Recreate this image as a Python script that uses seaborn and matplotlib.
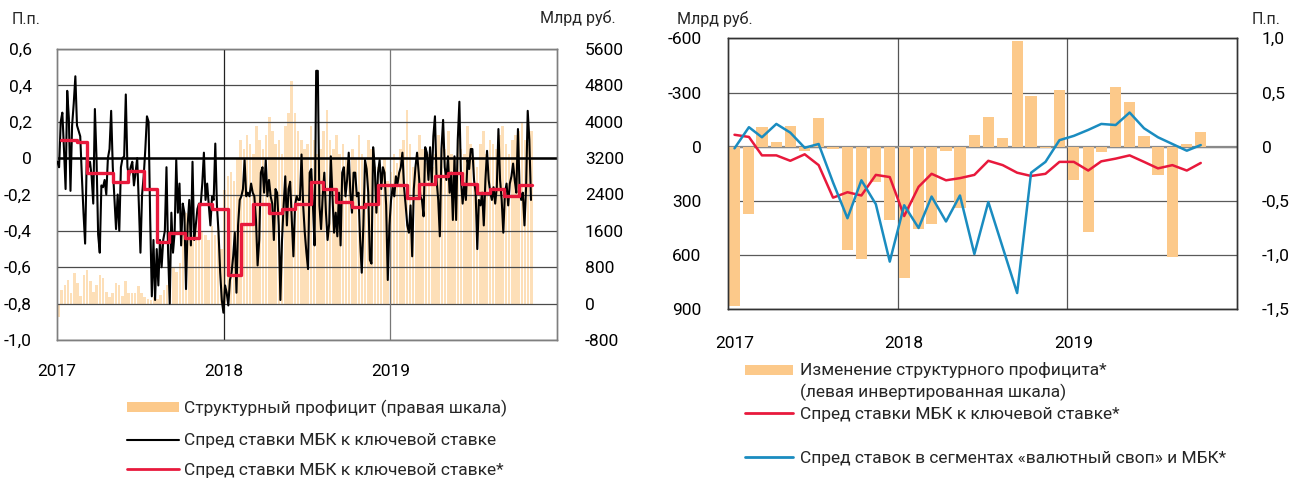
import numpy as np
import pandas as pd
import matplotlib
matplotlib.use("Agg")
import matplotlib.pyplot as plt
from matplotlib.lines import Line2D
from matplotlib.patches import Rectangle
import seaborn as sns

# ---------------- data: left chart ----------------
spread_daily = [
    -0.02, -0.05, 0.20, 0.25, 0.05, -0.17, 0.37, 0.22, -0.18, 0.18,
    0.30, 0.45, 0.18, 0.15, 0.12, -0.10, -0.30, -0.47, 0.0, -0.05,
    -0.02, -0.10, -0.25, 0.27, 0.0, -0.42, -0.52, -0.15, -0.16, -0.12,
    -0.20, 0.00, 0.05, 0.26, -0.05, -0.22, -0.39, -0.20, -0.40, -0.05,
    0.00, 0.01, 0.35, -0.05, -0.10, -0.05, -0.02, -0.15, -0.08, 0.0,
    -0.25, -0.52, -0.20, -0.10, 0.05, 0.23, 0.20, -0.34, -0.76,
    -0.45, -0.78, -0.50, -0.70, -0.45, -0.60, -0.45, -0.40, -0.05, -0.52,
    -0.80, -0.30, -0.52, -0.41, -0.01, -0.30, -0.14, -0.48, -0.25, -0.30,
    -0.72, -0.37, -0.23, -0.48, -0.02, -0.45, -0.37, -0.28, -0.25, -0.26,
    -0.14, 0.03, -0.23, -0.14, -0.26, -0.37, -0.21, -0.23, 0.08, -0.26,
    -0.41, -0.63, -0.78, -0.85, -0.70, -0.74, -0.81, -0.67, -0.63, -0.54,
    -0.41, -0.74, -0.37, -0.23, -0.21, -0.17, -0.01, -0.21, -0.19, -0.21, -0.14,
    -0.19, -0.21, -0.34, -0.59, -0.45, -0.08, -0.05, -0.19, -0.01, -0.21,
    -0.12, -0.21, -0.25, -0.45, -0.17, -0.19, -0.37, -0.78, -0.45, -0.26,
    -0.10, -0.37, -0.17, -0.13, -0.34, -0.54, -0.26, -0.21, -0.23, -0.23,
    0.02, -0.26, -0.41, -0.52, -0.61, -0.08, -0.06, -0.26, -0.48, 0.48,
    0.48, -0.26, -0.39, -0.21, -0.08, -0.30, -0.45, -0.36, 0.01, -0.21,
    -0.41, -0.30, -0.43, -0.19, -0.48, -0.08, -0.05, -0.21, -0.12, 0.03,
    -0.19, -0.30, -0.08,
    -0.08, -0.21, -0.19, -0.45, -0.63, -0.37, -0.01, -0.06, -0.19, -0.56,
    -0.58, 0.06, -0.05, -0.30, -0.08, -0.01, -0.17, -0.05, -0.08, -0.26,
    -0.67, -0.37, -0.23, -0.16, -0.21, -0.10, -0.14, -0.08, -0.05, 0.03,
    -0.16, -0.26, -0.37, -0.41, -0.26, -0.54, -0.17, -0.05, 0.03, -0.08,
    -0.21, -0.23, -0.32, 0.06, 0.03, -0.12, 0.06, -0.14, 0.12, 0.23,
    -0.12, -0.23, -0.43, 0.05, 0.21, -0.05, -0.12, 0.01, -0.19, -0.08,
    -0.34, 0.01,
    -0.34, 0.10, 0.31, -0.12, -0.25, -0.14, -0.23, -0.01, -0.06, 0.05,
    0.05, -0.12, -0.19, -0.50, -0.23, -0.26, -0.19, -0.37, -0.12, 0.04,
    -0.12, -0.19, -0.23, -0.16, -0.25, -0.16, 0.16, -0.12, -0.23, -0.41,
    -0.19, -0.14, -0.26, -0.14, -0.10, -0.03, -0.12, -0.19, 0.16, -0.17,
    -0.23, -0.19, -0.37, -0.16, 0.26, 0.10, -0.23,
]
spread_start, spread_end = "2017-01-02", "2019-11-05"

step_dates = [
    "2017-01-09", "2017-02-13", "2017-03-07", "2017-05-04", "2017-06-05",
    "2017-07-11", "2017-08-07", "2017-09-03", "2017-10-08", "2017-11-07",
    "2017-12-06", "2018-01-10", "2018-02-08", "2018-03-07", "2018-04-10",
    "2018-05-08", "2018-06-06", "2018-07-11", "2018-08-07", "2018-09-05",
    "2018-10-08", "2018-11-06", "2018-12-04", "2019-02-06", "2019-03-05",
    "2019-04-09", "2019-05-07", "2019-06-07", "2019-07-10", "2019-08-08",
    "2019-09-06", "2019-10-09", "2019-11-07",
]
step_values = [
    0.10, 0.09, -0.08, -0.13, -0.07, -0.17, -0.46, -0.41, -0.44, -0.25,
    -0.28, -0.64, -0.36, -0.25, -0.30, -0.28, -0.25, -0.13, -0.17, -0.24,
    -0.27, -0.25, -0.15, -0.22, -0.14, -0.10, -0.08, -0.14, -0.19, -0.17,
    -0.21, -0.15, -0.15,
]

surplus_start = "2017-01-04"
surplus_weekly = [
    -300, 300, 420, 530, 240, 680, 450, 170, 640, 750, 500, 250, 400,
    640, 560, 250, 150, 230, 460, 420, 170, 500, 240, 230, 240, 380,
    240, 150, 100, 80,
    150, 100, 200, 300, 400, 600, 800, 700, 900,
    1600, 2000, 1800, 1500, 1700, 1400, 1600, 1500, 1400, 1700, 1500, 1800, 1200,
    2500, 2800, 2900, 2700, 3200, 3600, 3400, 3700, 3500, 3300, 3900, 3600, 3400,
    3700, 4100, 3800, 3500, 3600, 3300, 3900, 4200, 4900, 4200, 3800, 3600, 3400,
    3500, 3900, 3600, 3300, 3400, 3800, 4250, 3600, 3400, 3700, 3300, 3500, 3200,
    3000, 3400, 3200, 3700, 3300, 3100, 3600, 3400, 3000, 3000, 2800, 3200, 2700,
    2900, 3300, 3100, 3400, 3600, 4250, 3500, 3000, 3200, 3700, 3400, 3100, 3300,
    3000, 3300, 3700, 3500, 3400, 3800, 3300, 3200, 3600, 3400, 3300, 3900, 3500,
    3200, 3000, 3500, 3800, 3300, 3600, 3500, 3400, 3700, 3900, 3500, 3300, 3600,
    3700, 3800, 4000, 3600, 3500, 3800,
]

left_ticks = [-1.0, -0.8, -0.6, -0.4, -0.2, 0.0, 0.2, 0.4, 0.6]
left_tick_labels = ["-1,0", "-0,8", "-0,6", "-0,4", "-0,2", "0", "0,2", "0,4", "0,6"]
right_ticks = [-800, 0, 800, 1600, 2400, 3200, 4000, 4800, 5600]
right_tick_labels = ["-800", "0", "800", "1600", "2400", "3200", "4000", "4800", "5600"]
years = ["2017", "2018", "2019"]

# ---------------- data: right chart ----------------
month_start, n_months = "2017-01-01", 34
surplus_change = [
    880, 370, -110, -25, -115, 25, -160, 10, 570, 620, 196, 405,
    725, 457, 428, 26, 341, -66, -167, -50, -585, -282, 5, -314,
    187, 471, 27, -328, -246, -61, 154, 613, -17, -84,
]
spread_avg = [
    0.11, 0.09, -0.08, -0.08, -0.13, -0.07, -0.17, -0.47, -0.42, -0.45, -0.26, -0.28,
    -0.64, -0.37, -0.25, -0.31, -0.29, -0.26, -0.13, -0.17, -0.24, -0.27, -0.25, -0.14,
    -0.14, -0.22, -0.135, -0.11, -0.08, -0.14, -0.20, -0.17, -0.22, -0.15,
]
swap_spread = [
    -0.015, 0.18, 0.087, 0.21, 0.13, -0.01, 0.025, -0.33, -0.66, -0.31, -0.53, -1.06,
    -0.54, -0.75, -0.46, -0.69, -0.45, -0.99, -0.51, -0.93, -1.35, -0.24, -0.14, 0.06,
    0.10, 0.155, 0.21, 0.20, 0.315, 0.17, 0.087, 0.025, -0.037, 0.015,
]
rl_ticks = [-600, -300, 0, 300, 600, 900]
rl_tick_labels = ["-600", "-300", "0", "300", "600", "900"]
rr_ticks = [1.0, 0.5, 0.0, -0.5, -1.0, -1.5]
rr_tick_labels = ["1,0", "0,5", "0", "-0,5", "-1,0", "-1,5"]

legend_left = [
    "Структурный профицит (правая шкала)",
    "Спред ставки МБК к ключевой ставке",
    "Спред ставки МБК к ключевой ставке*",
]
legend_right = [
    "Изменение структурного профицита*",
    "(левая инвертированная шкала)",
    "Спред ставки МБК к ключевой ставке*",
    "Спред ставок в сегментах «валютный своп» и МБК*",
]

# ---------------- style ----------------
sns.set_theme(style="white")
plt.rcParams["font.family"] = ["Roboto", "DejaVu Sans"]
FS = 12.5
RED = "#E8193C"
BLUE = "#1A8CC0"
BAR = "#FCC98A"
BAR_PALE = "#FDDFB8"
GRID = "#4a4a4a"

W, H = 1299, 482
fig = plt.figure(figsize=(W / 100, H / 100), dpi=100)

# ================= left chart =================
axL = fig.add_axes([57 / W, 1 - 340 / H, 500 / W, 291 / H])
axLr = axL.twinx()
axL.set_zorder(axLr.get_zorder() + 1)
axL.patch.set_visible(False)

surplus_dates = pd.date_range(surplus_start, periods=len(surplus_weekly), freq="7D")
axLr.bar(surplus_dates, surplus_weekly, width=5.5, color=BAR_PALE, linewidth=0)
axLr.set_ylim(-800, 5600)
axLr.set_yticks(right_ticks)
axLr.set_yticklabels(right_tick_labels)

axL.set_ylim(-1.0, 0.6)
axL.set_yticks(left_ticks)
axL.set_yticklabels(left_tick_labels)
axL.yaxis.grid(True, color=GRID, lw=0.9)
axL.set_axisbelow(True)
axL.axhline(0, color="black", lw=1.8, zorder=1.5)

spread_dates = pd.date_range(spread_start, spread_end, periods=len(spread_daily))
sns.lineplot(x=spread_dates, y=spread_daily, ax=axL, color="black", lw=1.5, zorder=3)
sns.lineplot(x=pd.to_datetime(step_dates), y=step_values, ax=axL, color=RED, lw=2.4,
             drawstyle="steps-post", zorder=4)

x0, x1 = pd.Timestamp("2017-01-01"), pd.Timestamp("2020-01-01")
axL.set_xlim(x0, x1)
axL.axvline(pd.Timestamp("2018-01-01"), color="#222222", lw=0.9, zorder=1)
axL.axvline(pd.Timestamp("2019-01-01"), color="#777777", lw=0.9, zorder=1)
axL.set_xticks([pd.Timestamp(y + "-01-01") for y in years])
axL.set_xticklabels(years)
axL.set_xlabel("")
axL.set_ylabel("")
for a in (axL, axLr):
    a.tick_params(length=0, labelsize=FS, colors="black")
    for s in a.spines.values():
        s.set_color("#7f7f7f")
        s.set_linewidth(1.0)
axL.tick_params(axis="y", pad=18)
axLr.tick_params(axis="y", pad=20)
axL.tick_params(axis="x", pad=17)

fig.text(12 / W, 1 - 20 / H, "П.п.", fontsize=11.5, va="center", ha="left")
fig.text(540 / W, 1 - 18 / H, "Млрд руб.", fontsize=11.5, va="center", ha="left")

# ================= right chart =================
axR = fig.add_axes([728 / W, 1 - 309.3 / H, 509 / W, 271 / H])
months = pd.date_range(month_start, periods=n_months, freq="MS") + pd.Timedelta(days=14)
axR.bar(months, surplus_change, width=24, color=BAR, linewidth=0, zorder=2)
axR.set_ylim(900, -600)
axR.set_yticks(rl_ticks)
axR.set_yticklabels(rl_tick_labels)
axR.yaxis.grid(True, color="#5a5a5a", lw=0.9)
axR.set_axisbelow(True)
axR.axhline(0, color="#8a8a8a", lw=1.6, zorder=1.5)
axR.set_xlim(x0, x1)
axR.axvline(pd.Timestamp("2018-01-01"), color="#555555", lw=0.9, zorder=1)
axR.axvline(pd.Timestamp("2019-01-01"), color="#555555", lw=0.9, zorder=1)
axR.set_xticks([pd.Timestamp(y + "-01-15") for y in years])
axR.set_xticklabels(years)

axR2 = axR.twinx()
sns.lineplot(x=months, y=spread_avg, ax=axR2, color=RED, lw=1.8)
sns.lineplot(x=months, y=swap_spread, ax=axR2, color=BLUE, lw=1.8)
axR2.set_ylim(-1.5, 1.0)
axR2.set_yticks(rr_ticks)
axR2.set_yticklabels(rr_tick_labels)
for a in (axR, axR2):
    a.set_xlabel("")
    a.set_ylabel("")
    a.tick_params(length=0, labelsize=FS, colors="black")
    for s in a.spines.values():
        s.set_color("#333333")
        s.set_linewidth(1.0)
axR.tick_params(axis="y", pad=19)
axR2.tick_params(axis="y", pad=18)
axR.tick_params(axis="x", pad=19)

fig.text(677 / W, 1 - 19 / H, "Млрд руб.", fontsize=11.5, va="center", ha="left")
fig.text(1252 / W, 1 - 19 / H, "П.п.", fontsize=11.5, va="center", ha="left")

# ================= legends =================
def leg_patch(x0p, x1p, yc, color, h=10):
    fig.add_artist(Rectangle((x0p / W, 1 - (yc + h / 2) / H), (x1p - x0p) / W, h / H,
                             transform=fig.transFigure, color=color, lw=0))

def leg_line(x0p, x1p, yc, color, lw):
    fig.add_artist(Line2D([x0p / W, x1p / W], [1 - yc / H, 1 - yc / H],
                          transform=fig.transFigure, color=color, lw=lw))

def leg_text(xp, yc, s):
    fig.text(xp / W, 1 - yc / H, s, fontsize=FS, va="center", ha="left")

leg_patch(127, 179, 407, BAR)
leg_text(184, 408, legend_left[0])
leg_line(127, 179, 440, "black", 1.5)
leg_text(184, 441, legend_left[1])
leg_line(127, 179, 469, RED, 2.0)
leg_text(184, 470, legend_left[2])

leg_patch(745, 793, 370, BAR)
leg_text(800, 370, legend_right[0])
leg_text(800, 392, legend_right[1])
leg_line(745, 793, 413, RED, 2.0)
leg_text(800, 414, legend_right[2])
leg_line(745, 793, 457, BLUE, 2.0)
leg_text(800, 459, legend_right[3])

fig.savefig("out.png", dpi=100)
